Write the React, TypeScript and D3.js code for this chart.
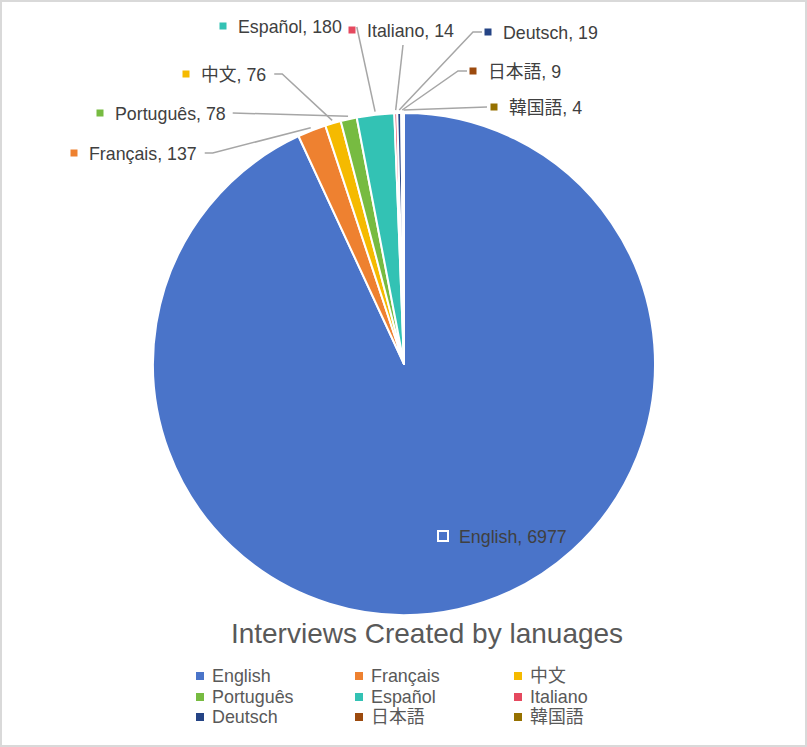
import React, { useEffect, useRef } from "react";
import * as d3 from "d3";

const categories = ["English", "Français", "中文", "Português", "Español", "Italiano", "Deutsch", "日本語", "韓国語"];
const values = [6977, 137, 76, 78, 180, 14, 19, 9, 4];
const colors = ["#4A74C9", "#EE8130", "#F5BA00", "#77BB41", "#33C2B4", "#E5495F", "#254485", "#9C4A0E", "#967100"];
const title = "Interviews Created by lanuages";

// layout: label marker centre x, text y centre, leader kind
const labelLayout = [
  { mx: 443, y: 537, kind: "inside" },
  { mx: 74, y: 154, kind: "leftElbow" },
  { mx: 186, y: 75, kind: "leftElbow" },
  { mx: 100, y: 114, kind: "leftStraight" },
  { mx: 223, y: 27, kind: "leftFar" },
  { mx: 352, y: 31, kind: "below" },
  { mx: 488, y: 33, kind: "rightElbow" },
  { mx: 473, y: 72, kind: "rightElbow" },
  { mx: 494, y: 108, kind: "rightStraight" },
];

const W = 807, H = 747;
const FONT = "'Liberation Sans', Arial, 'Noto Sans CJK JP', sans-serif";

export default function App() {
  const ref = useRef<SVGSVGElement>(null);
  useEffect(() => {
    const svg = d3.select(ref.current);
    svg.selectAll("*").remove();
    svg.append("rect").attr("x", 1).attr("y", 1).attr("width", W - 2).attr("height", H - 2)
      .attr("fill", "#fff").attr("stroke", "#d9d9d9").attr("stroke-width", 2);

    const cx = 404, cy = 364, R = 251;
    const data = categories.map((c, i) => ({ c, v: values[i], i }));
    const pie = d3.pie<any>().value((d) => d.v).sort(null);
    const arcs = pie(data);
    const arc = d3.arc<any>().innerRadius(0).outerRadius(R);
    const g = svg.append("g").attr("transform", `translate(${cx},${cy})`);
    g.selectAll("path").data(arcs).join("path")
      .attr("d", arc as any)
      .attr("fill", (d: any) => colors[d.data.i])
      .attr("stroke", "#fff").attr("stroke-width", 2).attr("stroke-linejoin", "round");

    // labels
    const lg = svg.append("g");
    arcs.forEach((a: any, i: number) => {
      const L = labelLayout[i];
      const mid = (a.startAngle + a.endAngle) / 2;
      const rr = R + 3;
      const ex = cx + rr * Math.sin(mid), ey = cy - rr * Math.cos(mid);
      const tx = L.mx + 15;
      if (L.kind === "inside") {
        lg.append("rect").attr("x", L.mx - 5).attr("y", L.y - 6).attr("width", 10).attr("height", 10)
          .attr("fill", colors[i]).attr("stroke", "#fff").attr("stroke-width", 2);
      } else {
        lg.append("rect").attr("x", L.mx - 3.5).attr("y", L.y - 4.5).attr("width", 7).attr("height", 7)
          .attr("fill", colors[i]);
      }
      const t = lg.append("text").attr("x", L.kind === "inside" ? L.mx + 16 : tx).attr("y", L.y)
        .attr("dy", "0.35em").attr("font-family", FONT).attr("font-size", 17.8).attr("fill", "#404040")
        .text(`${categories[i]}, ${values[i]}`);
      const tw = (t.node() as SVGTextElement).getComputedTextLength();
      const tEnd = tx + tw;
      let pts: [number, number][] = [];
      if (L.kind === "leftElbow") pts = [[tEnd + 8, L.y - 1], [tEnd + 16, L.y - 1], [ex, ey]];
      else if (L.kind === "leftStraight") pts = [[tEnd + 7, L.y - 1], [ex, ey]];
      else if (L.kind === "leftFar") pts = [[tEnd + 15, L.y], [ex, ey]];
      else if (L.kind === "below") pts = [[tx + 36, L.y + 14], [ex, ey]];
      else if (L.kind === "rightElbow") pts = [[L.mx - 6, L.y - 1], [L.mx - 15, L.y - 1], [ex, ey]];
      else if (L.kind === "rightStraight") pts = [[L.mx - 7, L.y - 1], [ex, ey]];
      if (pts.length) {
        lg.insert("path", ":first-child").attr("d", d3.line()(pts) as string)
          .attr("fill", "none").attr("stroke", "#a6a6a6").attr("stroke-width", 1.5);
      }
    });

    svg.append("text").attr("x", 427).attr("y", 643).attr("text-anchor", "middle")
      .attr("font-family", FONT).attr("font-size", 28).attr("fill", "#595959").text(title);

    const colX = [196, 355, 514];
    const rowY = [676, 697, 717];
    categories.forEach((c, i) => {
      const x = colX[i % 3], y = rowY[Math.floor(i / 3)];
      svg.append("rect").attr("x", x).attr("y", y - 4).attr("width", 8).attr("height", 8).attr("fill", colors[i]);
      svg.append("text").attr("x", x + 16).attr("y", y).attr("dy", "0.35em")
        .attr("font-family", FONT).attr("font-size", 17.9).attr("fill", "#595959").text(c);
    });
  }, []);
  return (
    <svg ref={ref} width={W} height={H} style={{ position: "absolute", left: 0, top: 0 }} />
  );
}
